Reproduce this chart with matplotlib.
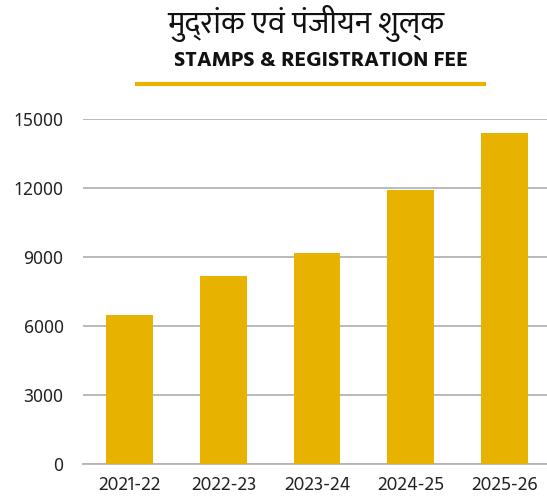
import matplotlib
matplotlib.use("Agg")
from matplotlib import pyplot as plt
from matplotlib.lines import Line2D

years = ["2021-22", "2022-23", "2023-24", "2024-25", "2025-26"]
fee = [6480, 8180, 9160, 11900, 14380]
yticks = [0, 3000, 6000, 9000, 12000, 15000]

title_hi = "मुद्रांक एवं पंजीयन शुल्क"
title_en = "STAMPS & REGISTRATION FEE"

HINDI = ["Mukta", "Hind", "Noto Sans Devanagari", "DejaVu Sans"]
LATIN = ["Hind", "Mukta", "DejaVu Sans"]
NUMS = ["Noto Sans", "DejaVu Sans"]
GOLD = "#E8B200"
W, H = 547, 504

plt.rcParams["font.family"] = LATIN

fig = plt.figure(figsize=(W / 100, H / 100), dpi=100)
ax = fig.add_axes([83 / W, 40 / H, 468 / W, 345 / H])

ax.bar(range(len(years)), fee, width=0.5, color=GOLD, zorder=3)
ax.set_xlim(-0.5, 4.5)
ax.set_ylim(0, 15000)
ax.set_yticks(yticks)
ax.set_yticklabels([str(v) for v in yticks], family=NUMS, fontsize=12.5, color="#222222")
ax.set_xticks(range(len(years)))
ax.set_xticklabels(years, family=LATIN, fontsize=14, color="#222222")
ax.tick_params(axis="both", length=0)
ax.tick_params(axis="y", pad=14)
ax.tick_params(axis="x", pad=9)
ax.grid(axis="y", color="#b4b4b4", linewidth=1.3, zorder=0)
for side in ["top", "right", "left"]:
    ax.spines[side].set_visible(False)
ax.spines["bottom"].set_color("#b4b4b4")
ax.spines["bottom"].set_linewidth(1.3)

# titles and gold underline
fig.text(306 / W, 1 - 24 / H, title_hi, ha="center", va="center", fontsize=22.5,
         family=HINDI, color="#111111")
fig.text(321 / W, 1 - 60 / H, title_en, ha="center", va="center", fontsize=15.6,
         fontweight="bold", color="#111111")
fig.add_artist(Line2D([135 / W, 486 / W], [1 - 84 / H, 1 - 84 / H], color=GOLD,
                      linewidth=3, solid_capstyle="butt", transform=fig.transFigure))

fig.savefig("out.png", dpi=100)
